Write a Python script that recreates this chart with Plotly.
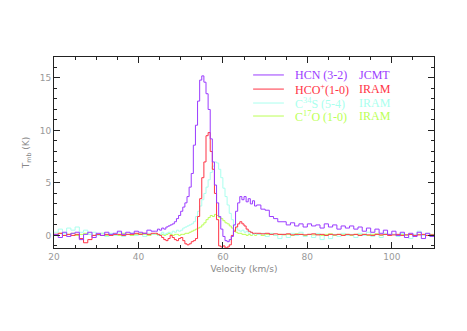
import plotly.graph_objects as go

# velocity channels (km/s)
velocity = [20, 21, 22, 23, 24, 25, 26, 27, 28, 29, 30, 31, 32, 33, 34, 35, 36, 37, 38, 39, 40, 41, 42, 43,
            44, 44.5, 45, 45.5, 46, 46.5, 47, 47.5, 48, 48.5, 49, 49.5, 50, 50.5, 51, 51.5, 52, 52.5,
            53, 53.5, 54, 54.5, 55, 55.5, 56, 56.5, 57, 57.5, 58, 58.5, 59, 59.5, 60, 60.5, 61, 61.5,
            62, 62.5, 63, 63.5, 64, 64.5, 65, 65.5, 66, 66.5, 67, 67.5,
            68, 69, 70, 71, 72, 73, 74, 75, 76, 77, 78, 79, 80, 81, 82, 83, 84, 85, 86, 87, 88, 89,
            90, 91, 92, 93, 94, 95, 96, 97, 98, 99, 100, 101, 102, 103, 104, 105, 106, 107, 108, 109, 110]

hcn = [0.1, -0.2, 0.3, -0.1, 0.2, 0.3, -0.4, 0.1, 0.3, -0.2, 0.2, 0.0, 0.3, 0.1, 0.2, 0.4, 0.1, 0.3, 0.2, 0.4, 0.3, 0.2, 0.5, 0.4,
       0.4, 0.6, 0.5, 0.7, 0.6, 0.8, 0.9, 1.0, 1.1, 1.3, 1.6, 1.9, 2.3, 2.7, 3.1, 3.7, 4.6, 5.9,
       8.6, 10.5, 12.8, 14.8, 15.2, 14.6, 13.5, 12.0, 9.2, 7.0, 4.8, 3.1, 1.8, 0.6, -0.1, -0.5, -0.6, -0.4,
       -0.1, 1.0, 2.3, 3.1, 3.7, 3.4, 3.7, 3.2, 3.5, 3.0, 3.3, 2.8,
       2.9, 2.5, 2.4, 1.8, 1.6, 1.3, 1.3, 1.0, 1.2, 0.9, 1.1, 0.8, 1.1, 0.9, 1.0, 0.7, 1.1, 0.8, 1.0, 0.6, 0.9, 0.7,
       0.9, 0.6, 0.8, 0.4, 0.7, 0.3, 0.6, 0.2, 0.5, 0.1, 0.4, 0.0, 0.3, -0.2, 0.2, -0.1, 0.3, -0.3, 0.2, -0.1, 0.1]

hco = [0.1, 0.2, 0.0, 0.1, 0.0, 0.1, -0.3, -0.7, -0.4, 0.0, 0.1, 0.0, 0.1, 0.0, 0.1, 0.1, 0.0, 0.1, 0.1, 0.2, 0.1, 0.2, 0.1, 0.2,
       0.2, 0.1, 0.0, -0.2, -0.4, -0.5, -0.3, 0.0, -0.2, -0.4, -0.5, -0.3, -0.2, -0.5, -0.8, -0.9, -0.8, -0.6,
       -0.5, -0.3, 1.8, 3.5, 5.5, 7.0, 9.5, 9.8, 8.0, 6.3, 4.0, 1.5, -1.0, -1.1, -1.0, -1.2, -1.1, -0.9,
       0.0, 0.4, 0.8, 1.1, 1.3, 1.1, 0.9, 0.6, 0.4, 0.3, 0.2, 0.2,
       0.2, 0.15, 0.2, 0.1, 0.15, 0.1, 0.1, 0.15, 0.05, 0.1, 0.1, 0.05, 0.1, 0.15, 0.05, 0.1, 0.0, 0.1, 0.05, 0.1, 0.0, 0.1,
       0.05, 0.1, 0.0, 0.1, 0.05, 0.0, 0.1, 0.05, 0.1, 0.0, 0.05, 0.1, 0.0, 0.05, 0.1, 0.0, 0.05, 0.1, 0.0, 0.05, 0.0]

c34s = [0.3, 0.6, 0.2, 0.7, 0.5, 0.8, 0.3, 0.5, 0.1, 0.3, 0.0, 0.2, -0.1, 0.2, 0.0, 0.3, -0.1, 0.1, 0.2, 0.0, 0.1, -0.1, 0.2, 0.1,
        0.2, 0.0, 0.1, 0.3, 0.1, 0.2, 0.3, 0.2, 0.4, 0.3, 0.5, 0.4, 0.5, 0.7, 0.8, 0.9, 1.0, 1.1,
        1.3, 1.8, 2.3, 2.8, 3.4, 4.0, 4.6, 5.3, 6.0, 6.6, 7.0, 6.9, 6.3, 5.5, 4.5, 3.7, 2.9, 2.1,
        1.5, 1.0, 0.7, 0.5, 0.4, 0.5, 0.3, 0.4, 0.2, 0.3, 0.1, 0.2,
        0.1, 0.2, -0.1, 0.2, 0.0, -0.3, 0.1, -0.2, 0.2, 0.0, 0.3, -0.1, 0.1, -0.2, 0.2, -0.4, 0.0, -0.3, 0.1, -0.1, 0.2, 0.0,
        0.1, -0.2, 0.2, 0.0, 0.3, -0.1, 0.1, -0.2, 0.2, 0.0, 0.1, -0.1, 0.2, 0.0, -0.3, 0.1, 0.4, 0.0, 0.2, -0.1, 0.1]

c17o = [0.1, 0.2, 0.0, 0.1, 0.2, 0.0, 0.1, 0.2, 0.1, 0.0, 0.1, 0.2, 0.0, 0.1, 0.1, 0.0, 0.2, 0.1, 0.0, 0.1, 0.2, 0.1, 0.0, 0.1,
        0.1, 0.0, 0.1, 0.1, 0.0, 0.1, 0.2, 0.1, 0.0, 0.1, 0.1, 0.0, 0.1, 0.1, 0.2, 0.2, 0.3, 0.4,
        0.5, 0.6, 0.7, 0.8, 1.0, 1.2, 1.5, 1.7, 1.9, 1.8, 2.0, 1.9, 1.7, 1.6, 1.4, 1.2, 1.1, 0.9,
        0.7, 0.5, 0.3, 0.2, 0.2, 0.1, 0.1, 0.0, 0.1, 0.0, 0.1, 0.0,
        0.1, 0.0, 0.1, 0.15, 0.0, 0.1, 0.05, 0.1, 0.0, 0.15, 0.1, 0.0, 0.1, 0.05, 0.1, 0.0, 0.1, 0.15, 0.0, 0.1, 0.05, 0.1,
        0.0, 0.1, 0.05, 0.1, 0.0, 0.1, 0.15, 0.0, 0.1, 0.05, 0.1, 0.0, 0.1, 0.05, 0.1, 0.0, 0.1, 0.05, 0.0, 0.1, 0.0]

lines = ["HCN (3-2)", "HCO<sup>+</sup>(1-0)", "C<sup>34</sup>S (5-4)", "C<sup>17</sup>O (1-0)"]
telescopes = ["JCMT", "IRAM", "IRAM", "IRAM"]
colors = ["#9b3cff", "#ff3344", "#aaffee", "#bbff55"]
spectra = [hcn, hco, c34s, c17o]

fig = go.Figure()

# faint lines first, HCN on top
for i in [3, 2, 1, 0]:
    fig.add_trace(go.Scatter(
        x=velocity, y=spectra[i], mode='lines',
        line=dict(color=colors[i], width=1, shape='hv'),
        showlegend=False, hoverinfo='skip'
    ))

# hand-made legend, two text columns
leg_y = [0.906, 0.832, 0.759, 0.691]
for i in range(4):
    fig.add_shape(type='line', xref='paper', yref='paper',
                  x0=0.524, x1=0.605, y0=leg_y[i], y1=leg_y[i],
                  line=dict(color=colors[i], width=1))
    fig.add_annotation(text=lines[i], xref='paper', yref='paper', x=0.63, y=leg_y[i],
                       xanchor='left', yanchor='middle', showarrow=False,
                       font=dict(family='Liberation Serif', size=12, color=colors[i]))
    fig.add_annotation(text=telescopes[i], xref='paper', yref='paper', x=0.797, y=leg_y[i],
                       xanchor='left', yanchor='middle', showarrow=False,
                       font=dict(family='Liberation Serif', size=12, color=colors[i]))

axis_font = dict(family='DejaVu Sans', size=9, color='#999999')

fig.update_xaxes(
    range=[20, 110], dtick=20, tick0=20, automargin=False,
    ticks='inside', ticklen=6, tickcolor='#222222',
    minor=dict(dtick=5, ticks='inside', ticklen=3, tickcolor='#222222'),
    showline=True, linecolor='#222222', linewidth=1, mirror='allticks',
    showgrid=False, zeroline=False, tickfont=axis_font,
    title=dict(text='Velocity (km/s)', font=dict(family='DejaVu Sans', size=9, color='#888888'), standoff=4)
)
fig.update_yaxes(
    range=[-1.2, 17], dtick=5, tick0=0, automargin=False,
    ticks='inside', ticklen=6, tickcolor='#222222',
    minor=dict(dtick=1, ticks='inside', ticklen=3, tickcolor='#222222'),
    showline=True, linecolor='#222222', linewidth=1, mirror='allticks',
    showgrid=False, zeroline=False, tickfont=axis_font,
    title=dict(text='T<sub>mb</sub> (K)', font=dict(family='DejaVu Sans', size=9, color='#888888'), standoff=8)
)

# page body adds an 8px offset, margins account for it
fig.update_layout(
    width=467, height=331,
    margin=dict(l=46, r=41, t=49, b=91),
    paper_bgcolor='white', plot_bgcolor='white',
    showlegend=False
)

fig.write_html("out.html")
